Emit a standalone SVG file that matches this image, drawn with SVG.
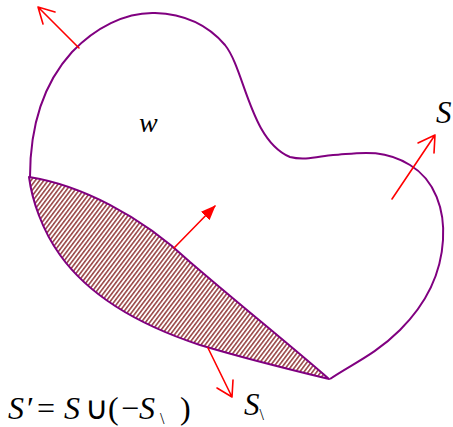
<svg xmlns="http://www.w3.org/2000/svg" width="453" height="427" viewBox="0 0 453 427">
<style>
.curve{fill:none;stroke:#800080;stroke-width:2;stroke-linejoin:round}
.arr{fill:none;stroke:#ff0000;stroke-width:1.6;stroke-linecap:round}
.t{font-family:"Liberation Serif","Times New Roman",serif;fill:#000}
.i{font-style:italic}
</style>
<defs>
<pattern id="hatch" patternUnits="userSpaceOnUse" width="3.4" height="3.4" patternTransform="rotate(37)">
<rect width="3.4" height="3.4" fill="#ffffff"/>
<rect width="1.6" height="3.4" fill="#9a4848"/>
</pattern>
<marker id="fill" markerWidth="16" markerHeight="12" refX="14" refY="6" orient="auto" markerUnits="userSpaceOnUse">
<path d="M0,0 L15,6 L0,12 Z" fill="#ff0000"/>
</marker>
</defs>
<g id="boundary">
<path class="curve" d="M30,177 C30,130 42,85 72,52 C95,28 125,12 155,13 C185,14 208,25 225,45 C245,70 250,140 290,157 C305,161 320,156 333,155 C355,154 380,147 410,165 C435,180 445,210 443,240 C441,275 425,305 400,330 C375,355 350,365 330,379"/>
</g>
<g id="region-S1">
<path d="M29,177 C80,185 140,215 190,262 C240,305 290,345 329,379 C300,372 250,360 200,345 C130,322 85,290 60,255 C42,230 32,200 29,177 Z" fill="url(#hatch)" stroke="#800080" stroke-width="2" stroke-linejoin="round"/>
</g>
<g id="connectors">
<path class="arr" d="M79,48 L38,7 M38,7 L55,12 M38,7 L43,24"/>
<path class="arr" d="M174,248 L215,206" marker-end="url(#fill)"/>
<path class="arr" d="M392,199 L435,135 M435,135 L418,143 M435,135 L434,153"/>
<path class="arr" d="M208,348 L232,397 M232,397 L217,388 M232,397 L233,380"/>
</g>
<g id="labels">
<text class="t i" x="139" y="132" font-size="28">w</text>
<text class="t i" x="436" y="123" font-size="31">S</text>
<text class="t" x="244" y="415" font-size="31"><tspan class="i">S</tspan><tspan font-size="16" dy="5">\</tspan></text>
<text class="t" y="419" font-size="32"><tspan class="i" x="8">S</tspan><tspan x="27">′</tspan><tspan x="37">=</tspan><tspan class="i" x="64">S</tspan><tspan x="85">∪</tspan><tspan x="108">(</tspan><tspan x="121">−</tspan><tspan class="i" x="139">S</tspan><tspan font-size="16" x="160" dy="5">\</tspan><tspan x="180" dy="-5">)</tspan></text>
</g>
</svg>
